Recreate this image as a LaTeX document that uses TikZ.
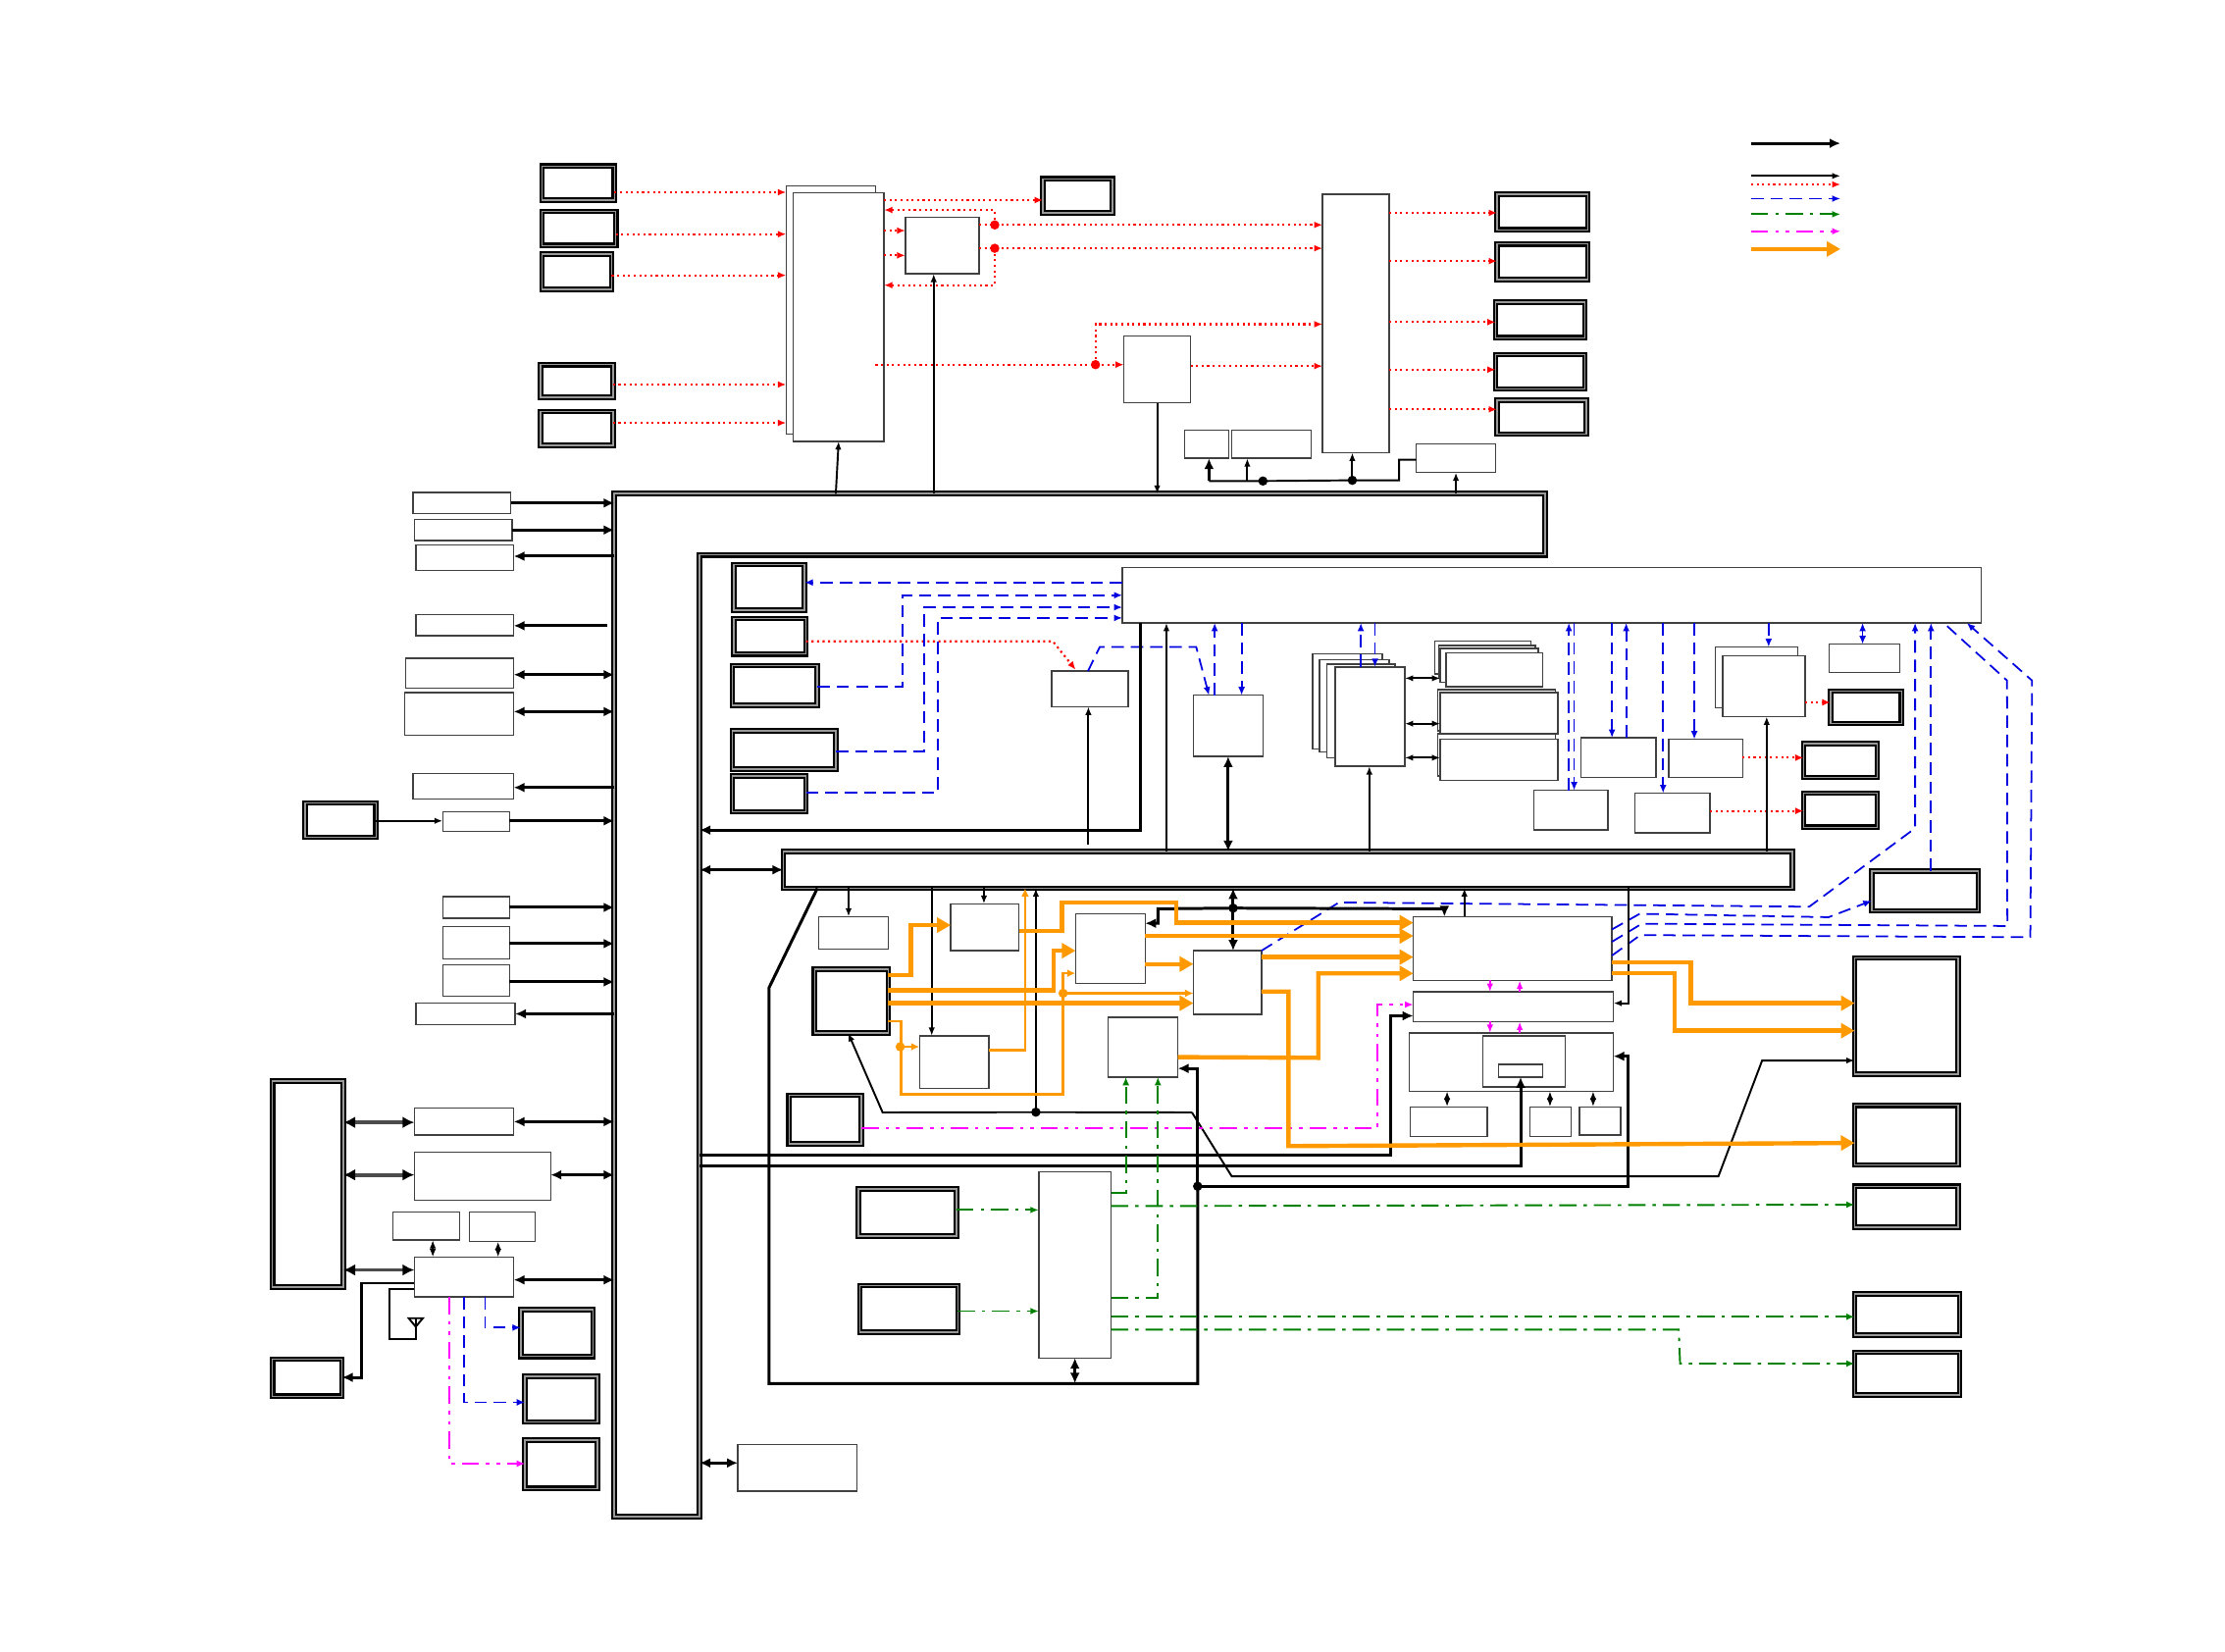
\documentclass[tikz,border=0pt]{standalone}
\usepackage{xcolor}
\usetikzlibrary{arrows.meta}
\definecolor{orgc}{RGB}{255,153,0}
\definecolor{grnc}{RGB}{0,128,0}
\definecolor{bluc}{RGB}{0,0,225}
\definecolor{magc}{RGB}{255,0,255}
\begin{document}
\begin{tikzpicture}[x=0.014464cm,y=-0.014464cm,>={Latex[length=.85mm,width=.65mm]},
     sz/.style 2 args={minimum width={(#1)*0.014464cm},minimum height={(#2)*0.014464cm}},
     pb/.style={draw=black!75,fill=white,line width=.4pt,inner sep=0pt,outer sep=0pt,anchor=north west},
     db/.style={draw=black,fill=white,line width=.6pt,double=black!40,double distance=.4pt,inner sep=0pt,outer sep=0pt,anchor=north west},
     dot/.style={circle,fill=#1,inner sep=0pt,minimum size=.95mm},
     blkl/.style={draw=black,line width=.55pt},
     blkk/.style={draw=black,line width=.85pt,>={Latex[length=1.1mm,width=1mm]}},
     bigt/.style={draw=black!70,line width=1.1pt,>={Latex[length=1.2mm,width=1.2mm,black]}},
     redl/.style={draw=red,line width=.6pt,densely dotted,>={Latex[length=.85mm,width=.7mm]}},
     bluel/.style={draw=bluc,line width=.5pt,dash pattern=on 3.6pt off 2pt,>={Latex[length=.85mm,width=.7mm]}},
     grnl/.style={draw=grnc,line width=.55pt,dash pattern=on 5pt off 2pt on 1pt off 2pt,>={Latex[length=.85mm,width=.7mm]}},
     magl/.style={draw=magc,line width=.6pt,dash pattern=on 5pt off 2pt on 1pt off 2pt on 1pt off 2pt,>={Latex[length=.85mm,width=.7mm]}},
     magt/.style={draw=magc,line width=.5pt},
     orgl/.style={draw=orgc,line width=.7pt,>={Latex[length=.85mm,width=.8mm]}},
     orgk/.style={draw=orgc,line width=1.25pt,>={Triangle[length=1.4mm,width=1.5mm]}}]
    \useasboundingbox (0,0) rectangle (1568,1164);
    % thick bus
    \draw[line width=.6pt,double=black!40,double distance=.5pt]
      (433,348) -- (1089,348) -- (1089,391) -- (493,391) -- (493,1069) -- (433,1069) -- cycle;
    \coordinate (busNW) at (433,348);
    \coordinate (busIn) at (493,391);
    % plain boxes
    \foreach \nm/\xx/\yy/\ww/\hh in {memB/554/131/63/175,memF/559/136/64/175,ctl/638/153/52/40,colR/932/137/47/182,
      ctr/792/237/47/47,sA/835/303/31/20,sB/868/303/56/20,sC/998/313/56/20,
      lA/291/347/69/15,lB/292/366/69/15,lC/293/384/69/18,lD/293/433/69/15,lE/286/464/76/21,lF/285/488/77/30,
      lG/291/545/71/18,lH/312/572/47/14,lI/312/632/47/15,lJ/312/653/47/23,lK/312/680/47/22,lL/293/707/70/15,
      lM/292/781/70/19,lN/292/812/96/34,lO/277/854/47/20,lP/331/854/46/21,lQ/292/886/70/28,lR/520/1018/84/33,
      wide/791/400/605/39,bT/741/473/54/25,bU/841/490/49/43,
      stA/925/461/49/67,stB/930/465/49/65,stC/935/468/48/66,stD/941/470/49/70,
      mA/1011/452/68/23,mB/1014/455/68/23,mC/1015/457/69/24,mD/1019/460/68/24,
      nA/1013/486/83/29,nB/1015/488/83/29,oA/1013/517/83/30,oB/1015/521/83/29,
      cA/1114/520/53/28,cB/1176/521/52/27,cC/1081/557/52/28,cD/1152/559/53/28,
      eB/1209/456/58/43,eF/1214/462/58/43,gA/1289/454/50/20,
      pA/577/646/49/23,pB/670/637/48/33,pC/648/730/49/37,pD/758/644/49/49,pE/841/670/48/45,pF/781/717/49/42,
      pG/996/646/140/45,pH/996/699/141/21,pI/993/728/144/41,pJ/1045/730/58/36,pK/1056/750/31/9,
      pL/994/780/54/21,pM/1078/780/29/21,pN/1113/780/29/20,pO/732/826/51/131}
      \node[pb,sz={\ww}{\hh}] (\nm) at (\xx,\yy) {};
    % framed boxes
    \foreach \nm/\xx/\yy/\ww/\hh in {dA/381/116/53/26,dB/381/148/54/26,dC/381/178/51/27,dD/380/256/53/25,dE/380/289/53/26,
      dF/734/125/51/26,rA/1054/136/66/27,rB/1054/171/66/27,rC/1053/212/65/27,rD/1053/249/65/26,rE/1054/281/65/26,
      fA/214/565/52/26,fB/191/761/52/147,wA/366/922/53/35,wB/369/969/53/34,wC/369/1014/53/36,wD/191/957/51/28,
      iA/516/397/52/34,iB/516/435/53/27,iC/515/468/62/30,iD/515/514/75/29,iE/515/546/54/27,
      jA/1289/486/52/25,jB/1270/523/54/26,jC/1270/558/54/26,busB/551/599/713/28,jD/1318/613/77/30,
      qA/573/682/54/47,qB/555/771/53/36,qC/604/837/71/35,qD/605/905/71/35,
      zA/1306/674/75/84,zB/1306/778/75/44,zC/1306/835/75/31,zD/1306/911/76/31,zE/1306/952/76/32}
      \node[db,sz={\ww-2}{\hh-2}] (\nm) at (\xx+1,\yy+1) {};
    % junctions
    \foreach \nm/\c/\xx/\yy in {dotA/red/701/158.5,dotB/red/701/175,dotC/red/772/257,dotD/black/890/339,dotE/black/953/338.5,
      dotF/black/869/640,dotG/black/730/783.8,dotH/black/844/836,dotI/orgc/634.4/737.7,dotJ/orgc/749.2/700}
      \node[dot=\c] (\nm) at (\xx,\yy) {};
    % legend
    \foreach \s/\y/\nm in {blkk/101/a,blkl/124/b,redl/130/c,bluel/140/d,grnl/151/e,magl/163/f,orgk/175.5/g}{
      \coordinate (lg\nm) at (1234,\y);
      \coordinate (lh\nm) at (1297,\y);
      \draw[\s,->] (lg\nm) -- (lh\nm);
    }
    % red
    \foreach \a/\b/\y in {dA/memB/135.5,dB/memB/165,dC/memB/194,dD/memB/271,dE/memB/298,memF/dF/141,memF/ctl/162.5,memF/ctl/180,
      colR/rA/150,colR/rB/184,colR/rC/227,colR/rD/260.5,colR/rE/288.5,ctr/colR/258,eF/jA/495,cB/jB/534,cD/jC/571.5}
      \draw[redl,->] (\a.east |- 0,\y) -- (\b.west |- 0,\y);
    \draw[redl,->] (ctl.east |- dotA) -- (dotA.center) -- (colR.west |- dotA);
    \draw[redl,->] (ctl.east |- dotB) -- (dotB.center) -- (colR.west |- dotB);
    \draw[redl,->] (dotA.center) |- (memF.east |- 0,148);
    \draw[redl,->] (dotB.center) |- (memF.east |- 0,201);
    \draw[redl,->] (memB.east |- dotC) -- (dotC.center) -- (ctr.west |- dotC);
    \draw[redl,->] (dotC.center) |- (colR.west |- 0,228.5);
    \draw[redl,->] (iB.east |- 0,452) -- (742,452) -- (758,472);
    % bus links on top
    \draw[blkl,->] (589,0 |- busNW) -- (memF.south);
    \draw[blkl,->] (658,0 |- busNW) -- (658,0 |- ctl.south);
    \draw[blkl,->] (ctr.south) -- (ctr.south |- busNW);
    \draw[blkl,->] (sC.south |- busNW) -- (sC.south);
    \draw[blkl] (sC.west |- 0,324) -- (986,324) |- (dotE.center) -- (dotD.center) -- (852,339);
    \draw[blkk,->] (852,339) -- (852,0 |- sA.south);
    \draw[blkl,->] (879,339) -- (879,0 |- sB.south);
    \draw[blkl,->] (dotE.center) -- (dotE |- colR.south);
    % left side of the bus
    \foreach \a/\y in {lA/354.5,lB/373.5,lH/578.5,lI/639.5,lJ/665,lK/692}
      \draw[blkk,->] (\a.east |- 0,\y) -- (busNW |- 0,\y);
    \foreach \a/\y in {lC/392,lG/555,lL/714.5}
      \draw[blkk,->] (busNW |- 0,\y) -- (\a.east |- 0,\y);
    \coordinate (lDe) at (428,441);
    \draw[blkk,->] (lDe) -- (lD.east |- lDe);
    \foreach \a/\y in {lE/475.5,lF/501.5,lM/790.5,lN/828,lQ/902}
      \draw[blkk,<->] (\a.east |- 0,\y) -- (busNW |- 0,\y);
    \draw[blkl,->] (fA.east |- 0,578.5) -- (lH.west |- 0,578.5);
    \foreach \a/\y in {lM/791,lN/828,lQ/895}
      \draw[bigt,<->] (fB.east |- 0,\y) -- (\a.west |- 0,\y);
    \draw[blkl,<->] (305,0 |- lO.south) -- (305,0 |- lQ.north);
    \draw[blkl,<->] (351,0 |- lP.south) -- (351,0 |- lQ.north);
    \draw[blkk,->] (lQ.west |- 0,904.3) -- (255,904.3) |- (wD.east |- 0,970.7);
    \draw[blkl] (lQ.west |- 0,908.7) -| (274.5,944) -- (293,944) -- (293,929);
    \draw[blkl] (288,929) -- (298,929) -- (293,935) -- cycle;
    \draw[bluel,->] (341.8,0 |- lQ.south) |- (wA.west |- 0,935.6);
    \draw[bluel,->] (327,0 |- lQ.south) |- (wB.west |- 0,988.3);
    \draw[magl,->] (316.7,0 |- lQ.south) |- (wC.west |- 0,1031.5);
    \draw[blkk,<->] (busIn |- 0,1031) -- (lR.west |- 0,1031);
    % wide bar
    \draw[bluel,->] (wide.west |- 0,410.5) -- (iA.east |- 0,410.5);
    \draw[bluel,->] (iC.east |- 0,484) -| (636,419.5) -- (wide.west |- 0,419.5);
    \draw[bluel,->] (iD.east |- 0,529.5) -| (651,428) -- (wide.west |- 0,428);
    \draw[bluel,->] (iE.east |- 0,558.5) -| (661,435.5) -- (wide.west |- 0,435.5);
    \draw[bluel,->] (766.7,0 |- bT.north) -- (775,456) -- (843,456) -- (852,0 |- bU.north);
    \foreach \x/\b in {856/bU,1105.6/cC,1146/cA,959/stD,1360.8/jD}
      \draw[bluel,->] (\x,0 |- \b.north) -- (\x,0 |- wide.south);
    \foreach \x/\b in {875/bU,969/stD,1109.3/cC,1136/cA,1172/cD,1194/cB,1246.4/eB}
      \draw[bluel,->] (\x,0 |- wide.south) -- (\x,0 |- \b.north);
    \draw[bluel,<->] (1312.6,0 |- wide.south) -- (1312.6,0 |- gA.north);
    \draw[bluel,->] (pE.north east) -- (943.6,636) -- (1275,639) -- (1349.6,583.7) -- (1349.6,0 |- wide.south);
    \draw[bluel,->] (pG.east |- 0,655) -- (1155.5,644) -- (1288.6,646.4) -- (jD.west |- 0,634.8);
    \draw[bluel] (pG.east |- 0,663.7) -- (1157,651) -- (1414.6,652.6) -- (1414.4,479.6) -- (1369.7,0 |- wide.south);
    \draw[bluel,->] (pG.east |- 0,673.4) -- (1156,659) -- (1430.8,660.5) -- (1432,479.6) -- (1386,0 |- wide.south);
    \draw[blkk,->] (803.7,0 |- wide.south) -- (803.7,585) -- (busIn |- 0,585);
    \draw[blkl,->] (822,0 |- busB.north) -- (822,0 |- wide.south);
    \draw[blkk,<->] (bU.south |- 0,533) -- (bU.south |- busB.north);
    \draw[blkl,->] (965,0 |- busB.north) -- (965,0 |- stD.south);
    \draw[blkl,->] (1245,0 |- busB.north) -- (1245,0 |- eF.south);
    \draw[blkl,->] (767,595) -- (767,0 |- bT.south);
    \foreach \a/\y in {stD/478,stD/510,stD/534}
      \draw[blkl,<->] (\a.east |- 0,\y) -- (1015,\y);
    \draw[blkk,<->] (busIn |- busB.west) -- (busB.west);
    % under the second bus
    \draw[blkk] (576,0 |- busB.south) -- (542,696) -- (542,975) -- (844,975) -- (dotH.center);
    \draw[blkk,<->] (pO.south) -- (pO.south |- 0,975);
    \draw[blkk,->] (dotH.center) -- (844,753) -- (pF.east |- 0,753);
    \draw[blkk,->] (dotH.center) -- (1147.5,836) |- (pI.east |- 0,744.4);
    \draw[blkl,->] (598,0 |- busB.south) -- (598,0 |- pA.north);
    \draw[blkl,->] (693.4,0 |- busB.south) -- (693.4,0 |- pB.north);
    \draw[blkl,->] (656.6,0 |- busB.south) -- (656.6,0 |- pC.north);
    \draw[blkl,->] (dotG.center) -- (dotG |- busB.south);
    \draw[blkl,->] (840,784) -- (dotG.center) -- (622,784) -- (597.7,0 |- qA.south);
    \draw[blkl,->] (840,784) -- (868,829) -- (1211,829) -- (1241.8,747.4) -- (zA.west |- 0,747.4);
    \draw[blkk,<->] (dotF |- busB.south) -- (dotF |- pE.north);
    \draw[blkk,->] (dotF.center) -- (816,640.5) |- (pD.east |- 0,650.7);
    \draw[blkk,->] (dotF.center) -- (1017.9,640.5) -- (1017.9,0 |- pG.north);
    \draw[blkl,->] (1032,0 |- pG.north) -- (1032,0 |- busB.south);
    \draw[blkl,->] (1147.5,0 |- busB.south) |- (pH.east |- 0,707);
    \draw[blkk,->] (busIn |- 0,813.8) -| (980,715.9) -- (pH.west |- 0,715.9);
    \draw[blkk,->] (busIn |- 0,822) -| (1071.6,0 |- pK.south);
    \foreach \x in {1019.8,1092.3,1122.7}
      \draw[blkl,<->] (\x,0 |- pI.south) -- (\x,780);
    \draw[magt,->] (1050,0 |- pG.south) -- (1050,0 |- pH.north);
    \draw[magt,->] (1071,0 |- pH.north) -- (1071,0 |- pG.south);
    \draw[magt,->] (1050,0 |- pH.south) -- (1050,0 |- pI.north);
    \draw[magt,->] (1071,0 |- pI.north) -- (1071,0 |- pH.south);
    \draw[magl,->] (qB.east |- 0,795) -- (970.5,795) |- (pH.west |- 0,708);
    % green
    \draw[grnl,->] (qC.east |- 0,852.7) -- (pO.west |- 0,852.7);
    \draw[grnl,->] (qD.east |- 0,924) -- (pO.west |- 0,924);
    \draw[grnl,->] (pO.east |- 0,850) -- (zC.west |- 0,849);
    \draw[grnl,->] (pO.east |- 0,928) -- (zD.west |- 0,928);
    \draw[grnl,->] (pO.east |- 0,937) -- (1183,937) -- (1184,961) -- (zE.west |- 0,961);
    \draw[grnl,->] (pO.east |- 0,840.5) -- (793.4,840.5) -- (793.4,0 |- pF.south);
    \draw[grnl,->] (pO.east |- 0,914.9) -- (816,914.9) -- (816,0 |- pF.south);
    % orange
    \draw[orgk,->] (qA.east |- 0,687.3) -- (642,687.3) |- (pB.west |- 0,652);
    \draw[orgk,->] (qA.east |- 0,697.8) -- (742.4,697.8) |- (pD.west |- 0,670);
    \draw[orgk,->] (qA.east |- 0,707) -- (pE.west |- 0,707);
    \draw[orgl,->] (qA.east |- 0,719.7) -- (635,719.7) -- (635,771.3) -- (749,771.3) |- (pD.west |- 0,685.9);
    \draw[orgl,->] (dotI.center) -- (pC.west |- dotI);
    \draw[orgl,->] (dotJ.center) -- (pE.west |- dotJ);
    \draw[orgl,->] (pC.east |- 0,740) -- (722.4,740) -- (722.4,0 |- busB.south);
    \draw[orgk,->] (pB.east |- 0,656) -- (748.4,656) -- (748.4,636) -- (829,636) |- (pG.west |- 0,650.3);
    \draw[orgk,->] (pD.east |- 0,659.6) -- (pG.west |- 0,659.6);
    \draw[orgk,->] (pD.east |- 0,679.4) -- (pE.west |- 0,679.4);
    \draw[orgk,->] (pE.east |- 0,674.5) -- (pG.west |- 0,674.5);
    \draw[orgk,->] (pF.east |- 0,745) -- (929,745.5) |- (pG.west |- 0,686);
    \draw[orgk,->] (pE.east |- 0,698.8) -- (908,698.8) -- (908,807.7) -- (zB.west |- 0,805.5);
    \draw[orgk,->] (pG.east |- 0,678.3) -- (1191.6,678.3) |- (zA.west |- 0,707);
    \draw[orgk,->] (pG.east |- 0,686) -- (1180,686) |- (zA.west |- 0,726.4);
  \end{tikzpicture}
\end{document}
